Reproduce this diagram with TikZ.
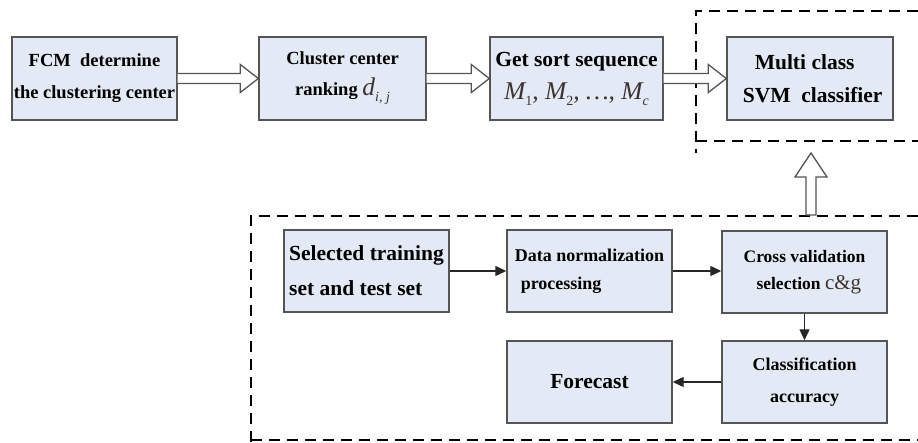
\documentclass[tikz,border=0pt]{standalone}
\usepackage{fontspec}
\setmainfont{Liberation Serif}
\usetikzlibrary{arrows.meta,calc}
\definecolor{boxfill}{HTML}{E4EAF5}
\definecolor{boxline}{HTML}{555555}
\definecolor{mathcol}{HTML}{3A3330}
\tikzset{
  box/.style={draw=boxline, line width=1.4pt, fill=boxfill, inner sep=0pt, minimum height=83pt},
  hollow/.style={draw=boxline, line width=1.3pt, fill=white, line join=miter},
  frame/.style={draw=black, line width=1.4pt, dash pattern=on 11pt off 7pt},
  conn/.style={draw=black!85, line width=1.2pt, -{Triangle[length=11pt,width=10pt]}}
}
\newcommand{\hollowright}[2]{%
  \draw[hollow] ($(#1.east)+(0,-5)$) -- ($(#2.west)+(-18,-5)$) -- ($(#2.west)+(-18,-14)$)
    -- (#2.west) -- ($(#2.west)+(-18,14)$) -- ($(#2.west)+(-18,5)$) -- ($(#1.east)+(0,5)$);}
\newcommand{\bigit}[1]{{\fontsize{25.5}{25.5}\selectfont\mdseries\itshape\color{mathcol}#1}}
\newcommand{\smit}[1]{\raisebox{-6pt}{\fontsize{14}{14}\selectfont\mdseries\itshape\color{mathcol}#1}}
\newcommand{\smup}[1]{\raisebox{-6pt}{\fontsize{14}{14}\selectfont\mdseries\color{mathcol}#1}}
\begin{document}
\begin{tikzpicture}[x=1pt,y=-1pt]
\useasboundingbox (0,0) rectangle (918,443);
% dashed frames
\draw[frame] (918,11) -- (696,11) -- (696,153);
\draw[frame] (696,141) -- (918,141);
\draw[frame] (918,216) -- (251,216) -- (251,443);
\draw[frame] (251,440) -- (918,440);
% top row
\node[box, minimum width=165pt, align=center, font=\fontsize{18.5}{32}\selectfont\bfseries]
  (fcm) at (94.5,78.5) {FCM\ \ determine\\the clustering center};
\node[box, minimum width=167pt, align=center, font=\fontsize{18.5}{31}\selectfont\bfseries]
  (rank) at (342.5,78.5) {Cluster center\\ranking \bigit{d}\smit{i, j}};
\node[box, minimum width=173pt, align=center, font=\fontsize{21.5}{33}\selectfont\bfseries]
  (sortseq) at (576.5,78.5) {Get sort sequence\\\bigit{M}\smup{1}\bigit{, M}\smup{2}\bigit{, \ldots, M}\smit{c}};
\node[box, minimum width=166pt, align=center, font=\fontsize{21.5}{33}\selectfont\bfseries]
  (svm) at (810,78.5) {Multi class\ \ \ \\ \ SVM\ \ classifier};
\hollowright{fcm}{rank}
\hollowright{rank}{sortseq}
\hollowright{sortseq}{svm}
% up arrow
\coordinate (upb) at (811,215);
\coordinate (upt) at (811,153);
\draw[hollow] ($(upb)+(-5,0)$) -- ($(upt)+(-5,24)$) -- ($(upt)+(-16,24)$) -- (upt)
  -- ($(upt)+(16,24)$) -- ($(upt)+(5,24)$) -- ($(upb)+(5,0)$) -- cycle;
% lower boxes
\node[box, minimum width=165pt, minimum height=82pt, align=left, font=\fontsize{21.5}{35}\selectfont\bfseries]
  (sel) at (366.5,271) {Selected training\\set and test set};
\node[box, minimum width=165pt, minimum height=82pt, align=left, font=\fontsize{18}{28}\selectfont\bfseries]
  (norm) at (589.5,271) {Data normalization\\\hspace{6pt}processing\hspace{50pt}};
\node[box, minimum width=165pt, minimum height=82pt, align=center, font=\fontsize{17.5}{27}\selectfont\bfseries]
  (cross) at (804.5,272) {Cross validation\\\ \ selection {\fontsize{21}{21}\selectfont\mdseries\color{mathcol}c\&g}};
\node[box, minimum width=165pt, minimum height=82pt, align=center, font=\fontsize{18}{32}\selectfont\bfseries]
  (acc) at (804.5,382) {Classification\\accuracy};
\node[box, minimum width=165pt, minimum height=82pt, align=center, font=\fontsize{21.5}{30}\selectfont\bfseries]
  (fore) at (589.5,382) {Forecast};
\draw[conn] (sel.east) -- (norm.west);
\draw[conn] (norm.east) -- (norm.east -| cross.west);
\draw[conn] (cross.south) -- (acc.north);
\draw[conn] (acc.west) -- (fore.east);
\end{tikzpicture}
\end{document}
